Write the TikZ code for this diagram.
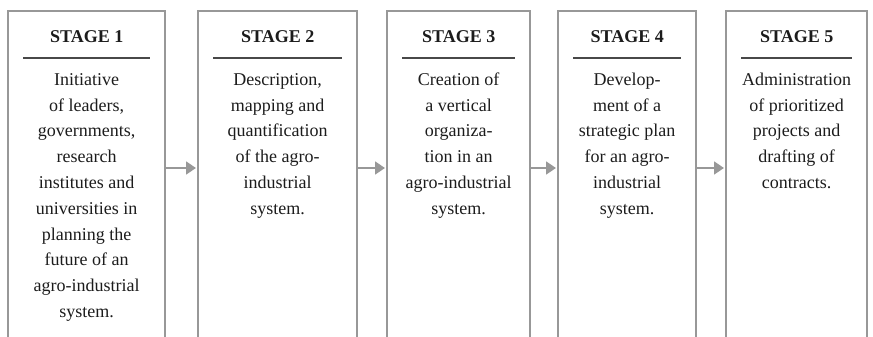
\documentclass[tikz,border=0pt]{standalone}
\usepackage{fontspec}
\setmainfont{Liberation Serif}
\usetikzlibrary{arrows.meta}
\definecolor{framegray}{RGB}{152,152,152}
\definecolor{rulegray}{RGB}{72,72,72}
\definecolor{inkblack}{RGB}{28,28,28}
\begin{document}
\begin{tikzpicture}[x=1pt,y=-1pt,
  stagebox/.style={draw=framegray, line width=2.4pt, inner sep=0pt,
    anchor=north west, minimum height=360pt},
  stagetitle/.style={font=\fontsize{18}{22}\selectfont\bfseries,
    text=inkblack, anchor=base, inner sep=0pt},
  stagetext/.style={font=\fontsize{18}{25.8}\selectfont, text=inkblack,
    align=center, anchor=north, inner sep=0pt},
  titlerule/.style={draw=rulegray, line width=1.4pt},
  flow/.style={draw=framegray, line width=1.5pt, shorten >=1pt,
    -{Triangle[length=10pt,width=13pt]}}]
\useasboundingbox (0,0) rectangle (873,337);
\clip (0,0) rectangle (873,337);

% stage frames (open towards the bottom edge)
\node[stagebox, minimum width=157pt] (s1) at (7,10) {};
\node[stagebox, minimum width=159pt] (s2) at (197,10) {};
\node[stagebox, minimum width=143pt] (s3) at (386,10) {};
\node[stagebox, minimum width=138pt] (s4) at (557,10) {};
\node[stagebox, minimum width=141pt] (s5) at (725,10) {};

% headings and rules
\foreach \s/\n in {s1/1,s2/2,s3/3,s4/4,s5/5}{
  \node[stagetitle] (h\n) at ([yshift=-33pt]\s.north) {STAGE \n};
  \draw[titlerule] ([xshift=16pt,yshift=-48pt]\s.north west)
    -- ([xshift=-16pt,yshift=-48pt]\s.north east);
}

% stage descriptions
\node[stagetext] (t1) at ([yshift=-60pt]s1.north)
  {\rule{0pt}{15pt}Initiative\\of leaders,\\governments,\\research\\institutes and\\universities in\\planning the\\future of an\\agro-industrial\\system.};
\node[stagetext] (t2) at ([yshift=-60pt]s2.north)
  {\rule{0pt}{15pt}Description,\\mapping and\\quantification\\of the agro-\\industrial\\system.};
\node[stagetext] (t3) at ([yshift=-60pt]s3.north)
  {\rule{0pt}{15pt}Creation of\\a vertical\\organiza-\\tion in an\\agro-industrial\\system.};
\node[stagetext] (t4) at ([yshift=-60pt]s4.north)
  {\rule{0pt}{15pt}Develop-\\ment of a\\strategic plan\\for an agro-\\industrial\\system.};
\node[stagetext] (t5) at ([yshift=-60pt]s5.north)
  {\rule{0pt}{15pt}Administration\\of prioritized\\projects and\\drafting of\\contracts.};

% connectors between stages
\coordinate (ay) at (0,168);
\draw[flow] (s1.east |- ay) -- (s2.west |- ay);
\draw[flow] (s2.east |- ay) -- (s3.west |- ay);
\draw[flow] (s3.east |- ay) -- (s4.west |- ay);
\draw[flow] (s4.east |- ay) -- (s5.west |- ay);
\end{tikzpicture}
\end{document}
